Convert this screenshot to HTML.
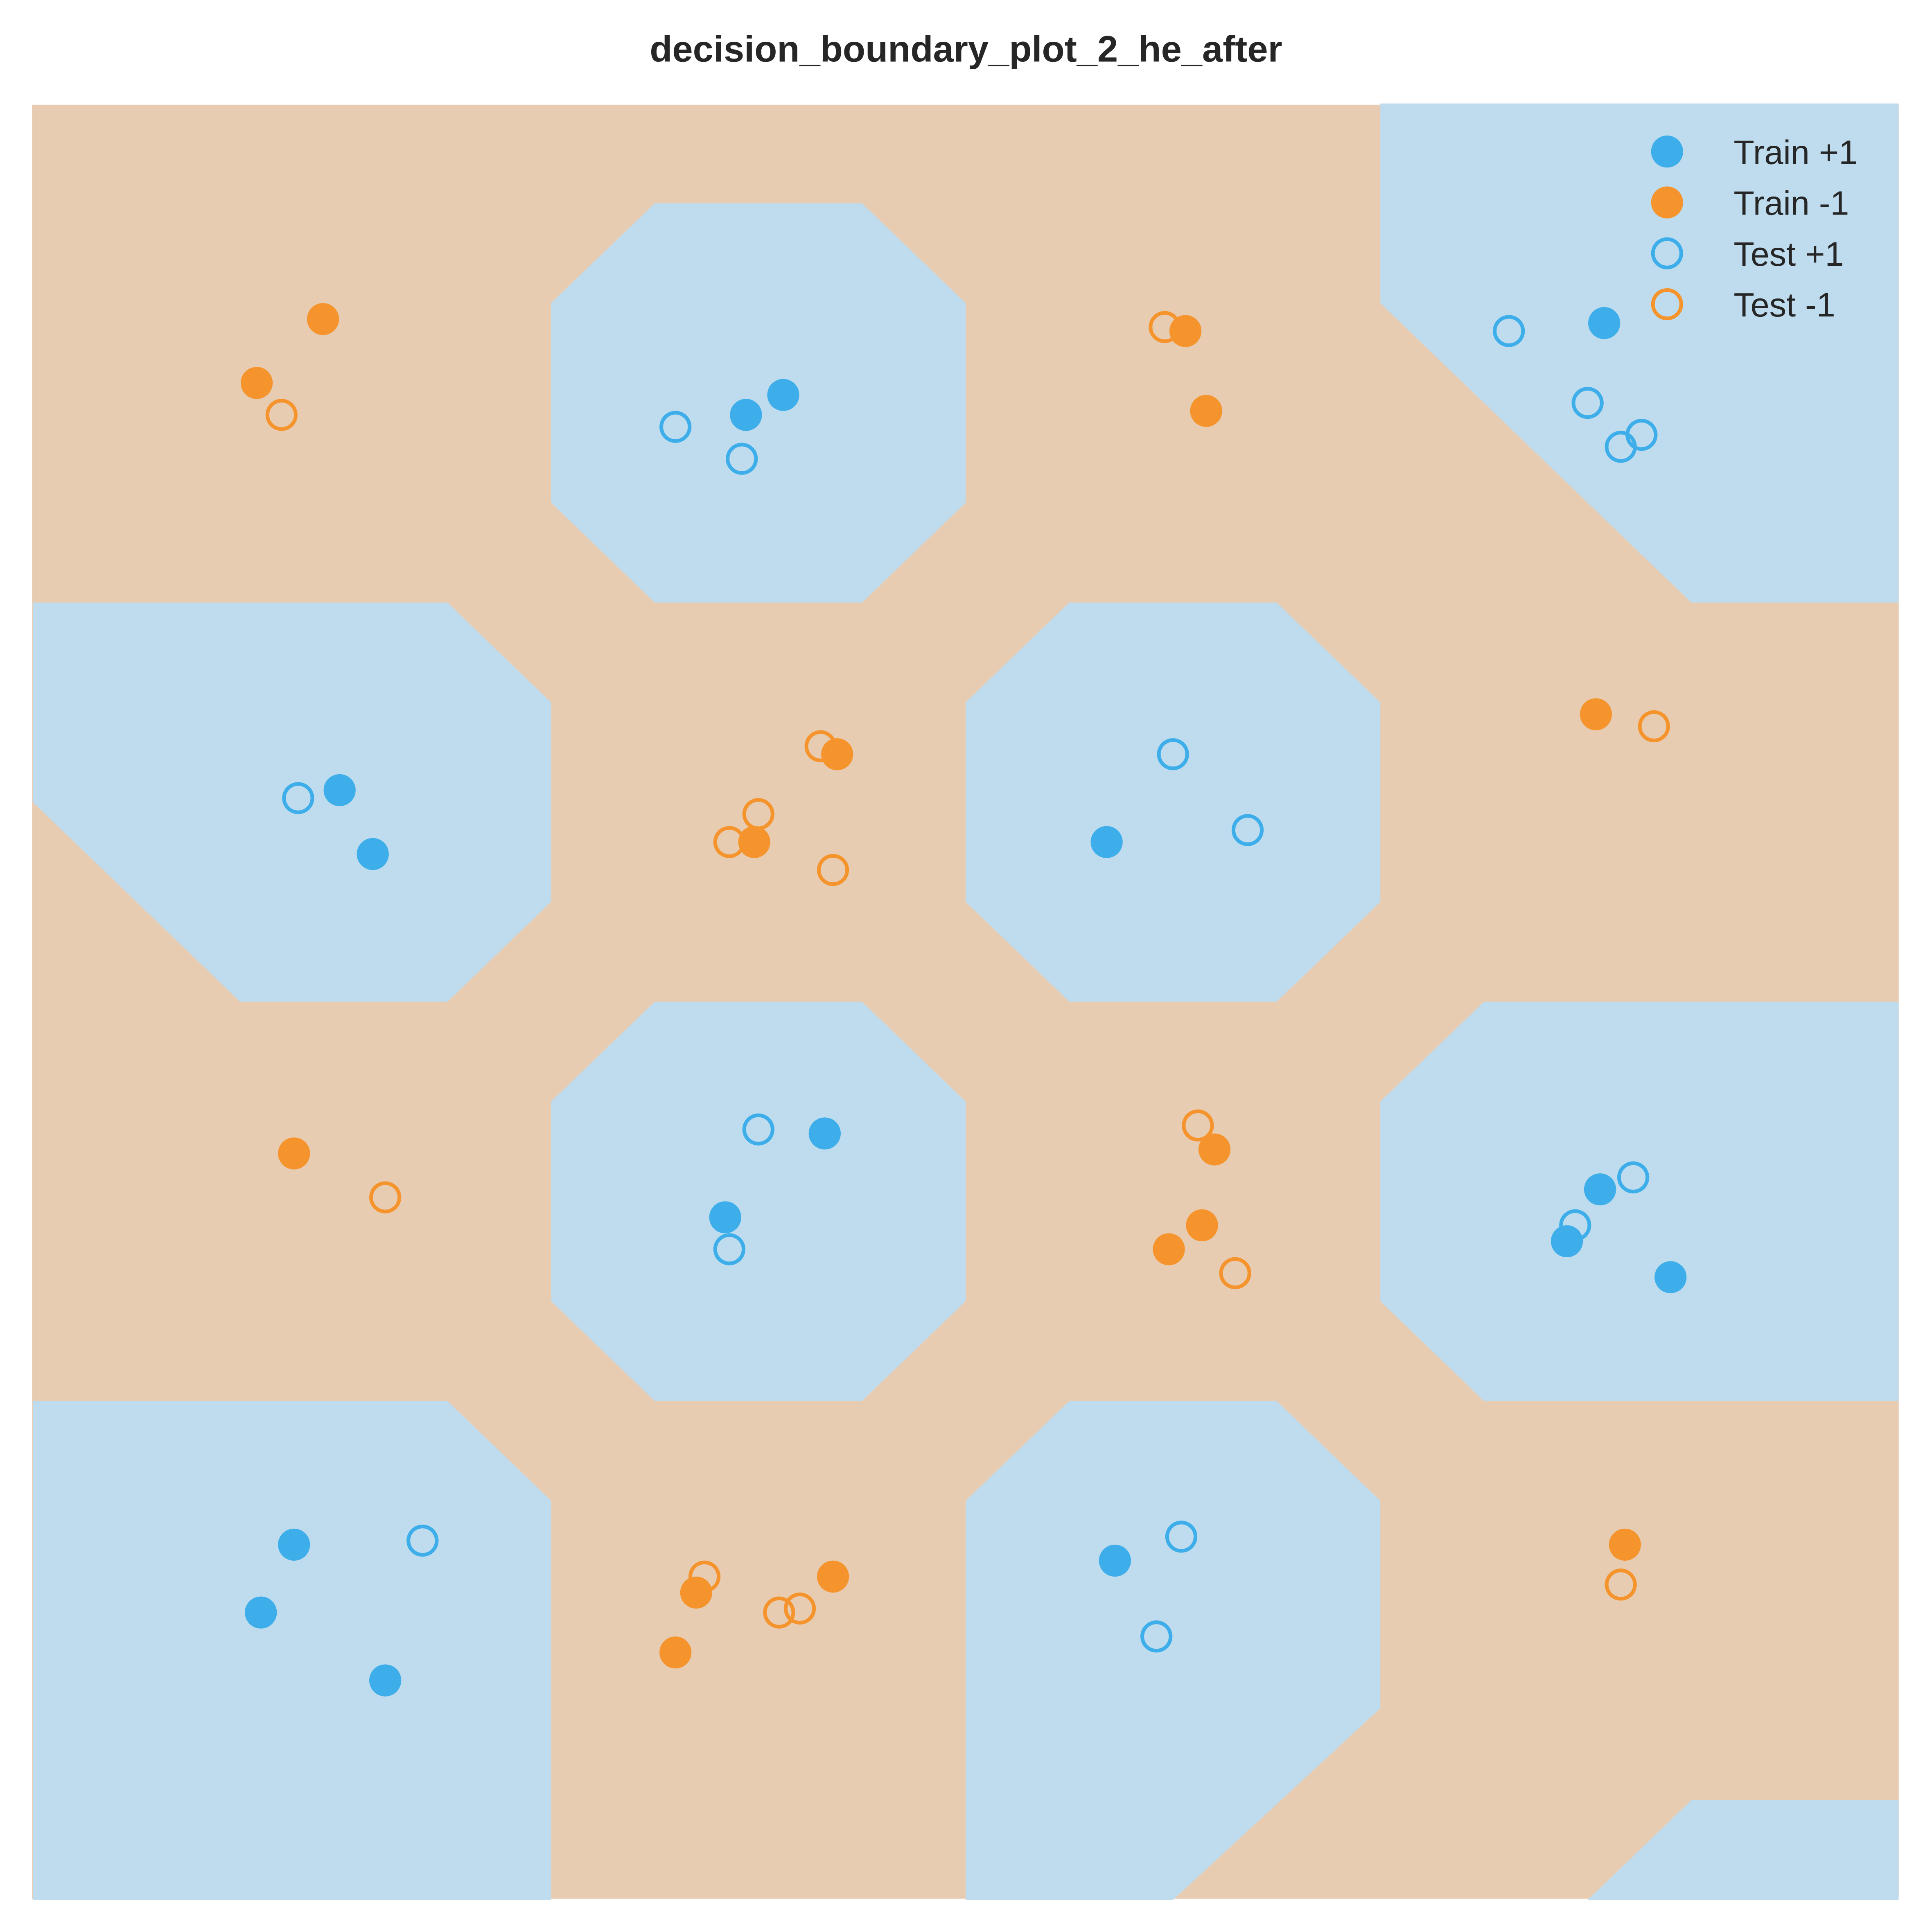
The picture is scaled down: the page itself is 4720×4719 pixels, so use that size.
<!DOCTYPE html>
<html><head><meta charset="utf-8"><style>
html,body{margin:0;padding:0;background:#fff}
svg{display:block}
text{font-family:"Liberation Sans",Arial,sans-serif}
</style></head><body>
<svg id="chart" width="4720" height="4719" viewBox="0 0 1568 1568" preserveAspectRatio="none" xmlns="http://www.w3.org/2000/svg">
<text x="784" y="50" text-anchor="middle" font-size="30" font-weight="bold" fill="#262626">decision_boundary_plot_2_he_after</text>
<rect x="26" y="85" width="1515" height="1456" fill="#e8ccb2"/>
<g id="regions"></g>
<g id="points"></g>
<g id="legend"></g>
</svg>
<script>
const trainPosX=[0.97,1.06,3.04,-0.01,0.07,1.84,1.16,0.92,3.03,2.95,3.20,-0.12,-0.20,0.10,1.86];
const trainPosY=[0.03,-0.02,-0.20,0.97,1.13,1.10,1.83,2.04,1.97,2.10,2.19,2.86,3.03,3.20,2.90];
const trainNegX=[-0.05,-0.21,2.03,2.08,3.02,1.19,0.99,-0.12,2.10,2.07,1.99,0.85,1.18,0.80,3.09];
const trainNegY=[-0.21,-0.05,-0.18,0.02,0.78,0.88,1.10,1.88,1.87,2.06,2.12,2.98,2.94,3.13,2.86];
const testPosX=[0.80,0.96,2.81,3.00,3.13,3.08,-0.11,2.00,2.18,1.00,0.93,3.11,2.97,0.19,2.02,1.96];
const testPosY=[0.06,0.14,-0.18,0.00,0.08,0.11,0.99,0.88,1.07,1.82,2.12,1.94,2.06,2.85,2.84,3.09];
const testNegX=[-0.15,1.98,3.16,1.15,1.00,0.93,1.18,0.10,2.06,2.15,0.87,1.05,1.10,3.08];
const testNegY=[0.03,-0.19,0.81,0.86,1.03,1.10,1.17,1.99,1.81,2.18,2.94,3.03,3.02,2.96];
const regions=[
 [[2.5,-0.75],[3.75,-0.75],[3.75,0.5],[3.25,0.5],[2.5,-0.25]],
 [[0.75,-0.5],[1.25,-0.5],[1.5,-0.25],[1.5,0.25],[1.25,0.5],[0.75,0.5],[0.5,0.25],[0.5,-0.25]],
 [[-0.75,0.5],[0.25,0.5],[0.5,0.75],[0.5,1.25],[0.25,1.5],[-0.25,1.5],[-0.75,1.0]],
 [[1.75,0.5],[2.25,0.5],[2.5,0.75],[2.5,1.25],[2.25,1.5],[1.75,1.5],[1.5,1.25],[1.5,0.75]],
 [[0.75,1.5],[1.25,1.5],[1.5,1.75],[1.5,2.25],[1.25,2.5],[0.75,2.5],[0.5,2.25],[0.5,1.75]],
 [[2.75,1.5],[3.75,1.5],[3.75,2.5],[2.75,2.5],[2.5,2.25],[2.5,1.75]],
 [[-0.75,2.5],[0.25,2.5],[0.5,2.75],[0.5,3.75],[-0.75,3.75]],
 [[1.75,2.5],[2.25,2.5],[2.5,2.75],[2.5,3.27],[2.0,3.75],[1.5,3.75],[1.5,2.75]],
 [[3.25,3.5],[3.75,3.5],[3.75,3.75],[3.0,3.75]]
];
const legendLabels=["Train +1","Train -1","Test +1","Test -1"];
const BLUE="#3daeea",ORANGE="#f5942c";
const sx=u=>279+u*336.5, sy=v=>327+v*324;
const NS="http://www.w3.org/2000/svg";
const rg=document.getElementById('regions');
regions.forEach((poly,i)=>{
 const p=document.createElementNS(NS,'polygon');
 p.setAttribute('points',poly.map(q=>sx(q[0])+','+sy(q[1])).join(' '));
 p.setAttribute('fill','#bedcee');
 
 
 rg.appendChild(p);
});
const pg=document.getElementById('points');
function draw(xs,ys,color,filled,name){
 xs.forEach((x,i)=>{
  const c=document.createElementNS(NS,'circle');
  c.setAttribute('cx',sx(x));c.setAttribute('cy',sy(ys[i]));
  if(filled){c.setAttribute('r',13);c.setAttribute('fill',color);}
  else{c.setAttribute('r',11.5);c.setAttribute('fill','none');c.setAttribute('stroke',color);c.setAttribute('stroke-width',3);}
  
  
  pg.appendChild(c);
 });
}
draw(trainPosX,trainPosY,BLUE,true,'train-pos-point');
draw(trainNegX,trainNegY,ORANGE,true,'train-neg-point');
draw(testPosX,testPosY,BLUE,false,'test-pos-point');
draw(testNegX,testNegY,ORANGE,false,'test-neg-point');
const lg=document.getElementById('legend');
const lc=[[BLUE,true],[ORANGE,true],[BLUE,false],[ORANGE,false]];
legendLabels.forEach((t,i)=>{
 const y=123+i*41.3;
 const c=document.createElementNS(NS,'circle');
 c.setAttribute('cx',1353);c.setAttribute('cy',y);
 if(lc[i][1]){c.setAttribute('r',13);c.setAttribute('fill',lc[i][0]);}
 else{c.setAttribute('r',11.5);c.setAttribute('fill','none');c.setAttribute('stroke',lc[i][0]);c.setAttribute('stroke-width',3);}
 
 
 lg.appendChild(c);
 const tx=document.createElementNS(NS,'text');
 tx.setAttribute('x',1407);tx.setAttribute('y',y+10);
 tx.setAttribute('font-size','27.5');tx.setAttribute('fill','#262626');
 tx.textContent=t;
 
 
 lg.appendChild(tx);
});
</script>
</body></html>
